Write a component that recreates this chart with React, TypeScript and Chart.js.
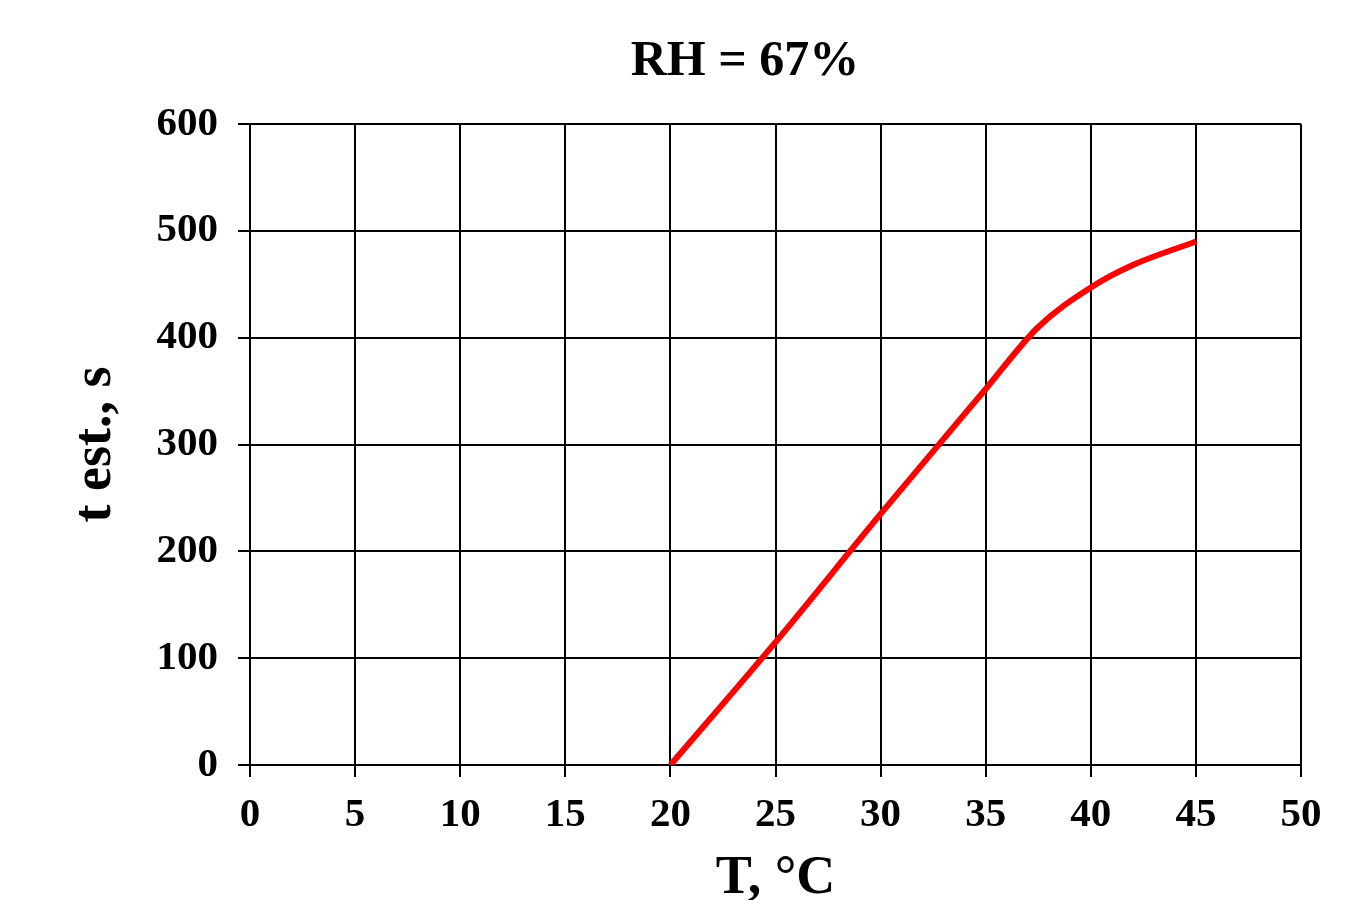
import React, { useEffect, useRef } from "react";
import { Chart, registerables } from "chart.js";

Chart.register(...registerables);

const temperatures = [20, 25, 30, 35, 37.5, 40, 42, 45];
const times = [0, 115, 235, 352, 410, 447, 468, 490];
const xTicks = [0, 5, 10, 15, 20, 25, 30, 35, 40, 45, 50];
const yTicks = [0, 100, 200, 300, 400, 500, 600];
const titleText = "RH = 67%";
const xTitle = "T, °C";
const yTitle = "t est., s";

const FONT = "'Liberation Serif', 'Times New Roman', serif";

const shiftTitle = {
  id: "shiftTitle",
  afterLayout(chart: any) {
    const tb = chart.titleBlock;
    if (tb) {
      tb.left = 123;
      tb.right = 1367;
    }
  },
};

export default function App() {
  const ref = useRef<HTMLCanvasElement | null>(null);

  useEffect(() => {
    document.body.style.margin = "0";
    const canvas = ref.current;
    if (!canvas) return;
    const data = temperatures.map((t, i) => ({ x: t, y: times[i] }));
    const chart = new Chart(canvas, {
      type: "line",
      data: {
        datasets: [
          {
            data,
            borderColor: "#ff0000",
            borderWidth: 6,
            pointRadius: 0,
            cubicInterpolationMode: "monotone",
            fill: false,
          },
        ],
      },
      plugins: [shiftTitle],
      options: {
        animation: false,
        responsive: false,
        maintainAspectRatio: false,
        layout: { padding: { left: 0, right: 66, top: 0, bottom: 0 } },
        plugins: {
          legend: { display: false },
          tooltip: { enabled: false },
          title: {
            display: true,
            text: titleText,
            color: "#000",
            font: { family: FONT, size: 50, weight: "bold" },
            padding: { top: 32, bottom: 32 },
          },
        },
        scales: {
          x: {
            type: "linear",
            min: 0,
            max: 50,
            afterBuildTicks: (s: any) => {
              s.ticks = xTicks.map((v) => ({ value: v }));
            },
            afterFit: (s: any) => {
              s.height = 135;
            },
            ticks: {
              color: "#000",
              font: { family: FONT, size: 41, weight: "bold" },
              padding: 14,
              maxRotation: 0,
              autoSkip: false,
            },
            grid: { color: "#000", lineWidth: 2, tickLength: 12, drawTicks: true },
            border: { color: "#000", width: 2 },
            title: {
              display: true,
              text: xTitle,
              color: "#000",
              font: { family: FONT, size: 54, weight: "bold" },
              padding: { top: 0, bottom: -11 },
            },
          },
          y: {
            type: "linear",
            min: 0,
            max: 600,
            afterBuildTicks: (s: any) => {
              s.ticks = yTicks.map((v) => ({ value: v }));
            },
            afterFit: (s: any) => {
              s.width = 250;
            },
            ticks: {
              color: "#000",
              font: { family: FONT, size: 41, weight: "bold" },
              padding: 20,
              autoSkip: false,
            },
            grid: { color: "#000", lineWidth: 2, tickLength: 12, drawTicks: true },
            border: { color: "#000", width: 2 },
            title: {
              display: true,
              text: yTitle,
              color: "#000",
              font: { family: FONT, size: 54, weight: "bold" },
              padding: { top: 64, bottom: 0 },
            },
          },
        },
      },
    });
    return () => chart.destroy();
  }, []);

  return (
    <div style={{ width: 1367, height: 900, background: "#fff" }}>
      <canvas ref={ref} width={1367} height={900} style={{ display: "block" }} />
    </div>
  );
}
